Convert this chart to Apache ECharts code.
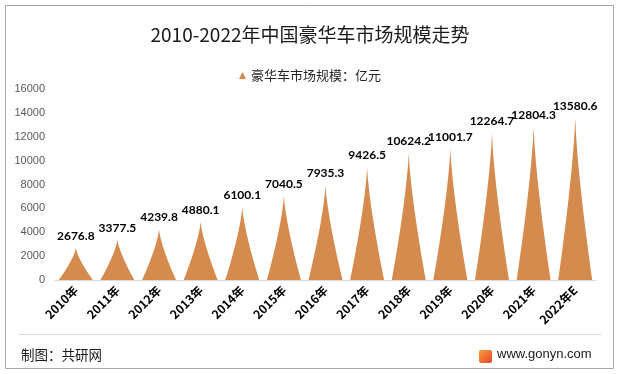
<!DOCTYPE html>
<html><head><meta charset="utf-8">
<script src="https://cdn.jsdelivr.net/npm/echarts@6/dist/echarts.min.js"></script>
<style>html,body{margin:0;padding:0;background:#fff}#c{width:620px;height:374px}</style>
</head><body><div id="c"></div>
<script>
const categories = ['2010年','2011年','2012年','2013年','2014年','2015年','2016年','2017年','2018年','2019年','2020年','2021年','2022年E'];
const values = [2676.8,3377.5,4239.8,4880.1,6100.1,7040.5,7935.3,9426.5,10624.2,11001.7,12264.7,12804.3,13580.6];
const yTicks = {min:0, max:16000, interval:2000};
const seriesName = '豪华车市场规模：亿元';
const titleText = '2010-2022年中国豪华车市场规模走势';

const chart = echarts.init(document.getElementById('c'), null, {renderer:'canvas'});
const spike = 'path://M0,10 L0.665,9 L1.3,8 L1.91,7 L2.49,6 L3.04,5 L3.55,4 L4.015,3 L4.43,2 L4.775,1 L5,0 L5.225,1 L5.57,2 L5.985,3 L6.45,4 L6.96,5 L7.51,6 L8.09,7 L8.7,8 L9.335,9 L10,10 z';
chart.setOption({
  animation:false,
  backgroundColor:'#fff',
  title:{text:titleText,left:'center',top:20,textStyle:{fontFamily:'Noto Sans CJK SC',fontWeight:'normal',fontSize:19,color:'#1a1a1a'}},
  legend:{top:64,left:'center',itemWidth:7,itemHeight:9,itemGap:4,
    icon:'path://M5,0 L10,10 L0,10 z',
    textStyle:{fontFamily:'Noto Sans CJK SC',fontSize:13,color:'#262626'},data:[seriesName]},
  grid:{left:55,right:24,top:89,bottom:94},
  xAxis:{type:'category',data:categories,
    axisLine:{lineStyle:{color:'#d9d9d9'}},axisTick:{show:false},
    axisLabel:{rotate:45,interval:0,margin:8,fontFamily:'Noto Sans CJK SC',fontWeight:'bold',fontSize:12,color:'#000'}},
  yAxis:{type:'value',min:yTicks.min,max:yTicks.max,interval:yTicks.interval,
    splitLine:{show:false},axisLine:{show:false},axisTick:{show:false},
    axisLabel:{margin:10,formatter:v=>String(v),fontFamily:'Liberation Sans',fontSize:11,color:'#595959'}},
  graphic:[
    {type:'rect',shape:{x:5.5,y:5.5,width:608,height:363},style:{fill:'none',stroke:'#a6a6a6',lineWidth:1},z:-1},
    {type:'line',shape:{x1:19,y1:334.5,x2:601,y2:334.5},style:{stroke:'#d9d9d9',lineWidth:1}},
    {type:'text',left:21,top:348,style:{text:'制图：共研网',font:'13.5px "Noto Sans CJK SC"',fill:'#1a1a1a'}},
    {type:'rect',shape:{x:479,y:350,width:13,height:13,r:2},style:{fill:new echarts.graphic.LinearGradient(0,0,1,1,[{offset:0,color:'#f7a03c'},{offset:1,color:'#e8432b'}])}},
    {type:'text',left:497,top:348,style:{text:'www.gonyn.com',font:'13px "Liberation Sans"',fill:'#1a1a1a'}}
  ],
  series:[{
    name:seriesName,type:'pictorialBar',data:values,
    symbol:spike,barWidth:34,
    itemStyle:{color:'#d58b4e'},
    label:{show:true,position:'top',distance:6,fontFamily:'Lato',fontWeight:'bold',fontSize:12,color:'#000'}
  }]
});
</script></body></html>
